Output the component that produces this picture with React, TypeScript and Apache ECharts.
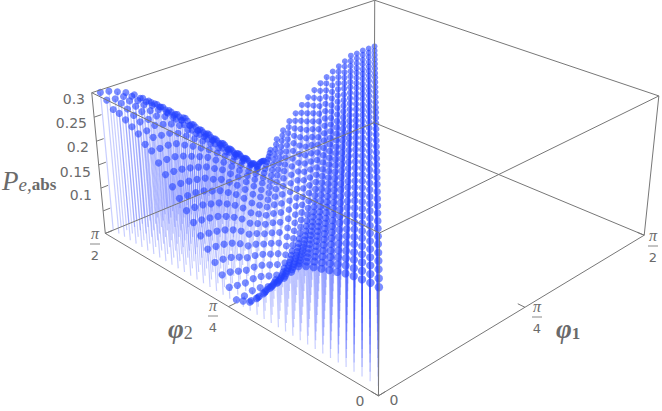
import React, { useEffect, useRef } from "react";
import * as echarts from "echarts";

// P(e,abs) in thousandths, estimated by eye from the reference picture, not measured.
// One list per line of constant (phi2 - phi1) step, from the phi1 = first-step edge to the phi2 = pi/2 edge.
const col00 = [188,188,189,189,189,190,190,190,190,191,191,191,191,192,192,192,192,192,192,192,192,192,192,192,192,192,191,191,191,191,191,191,191,190,190,190,190,190,190,190];
const col01 = [188,188,188,188,188,188,188,188,188,188,188,188,188,188,188,188,188,188,188,188,188,188,188,188,188,188,188,188,188,188,188,189,189,189,189,189,190,190,190];
const col02 = [186,186,186,186,186,186,185,185,185,185,185,185,185,185,185,185,185,185,185,185,185,186,186,186,186,186,186,187,187,187,187,188,188,188,189,189,190,190];
const col03 = [184,183,183,182,182,181,181,180,180,180,180,179,179,179,179,179,179,179,179,179,179,179,180,180,180,181,181,182,182,183,183,184,185,185,186,187,188];
const col04 = [181,180,178,177,176,175,174,174,173,173,172,172,172,171,171,171,171,171,171,172,172,172,173,173,174,175,176,177,178,179,180,182,183,185,186,188];
const col05 = [176,174,172,170,168,166,165,164,163,162,161,160,160,159,159,159,159,159,159,159,160,160,161,162,163,164,165,166,168,170,171,173,175,178,180];
const col06 = [171,168,165,162,159,156,153,150,147,145,143,141,140,139,138,137,137,138,138,139,140,142,144,146,148,151,154,157,160,163,166,169,171,173];
const col07 = [166,162,158,154,150,146,142,138,134,130,127,124,121,119,118,118,118,119,120,122,124,126,128,131,134,137,140,143,147,151,155,160,166];
const col08 = [161,156,150,145,140,135,130,125,120,115,111,107,104,102,101,100,100,101,103,105,108,112,116,120,125,130,135,140,145,149,154,158];
const col09 = [155,148,141,134,127,121,115,109,103,98,93,89,85,82,80,79,79,81,84,87,91,95,100,105,111,117,123,129,135,142,149];
const col10 = [147,137,127,118,109,100,92,84,77,71,66,62,59,58,58,60,63,67,71,76,81,87,93,99,105,111,118,124,131,138];
const col11 = [128,117,106,96,86,77,68,60,53,47,42,39,38,39,41,44,48,53,58,64,70,76,83,90,97,105,112,120,127];
const col12 = [108,96,85,74,64,54,45,36,29,23,20,20,22,25,29,34,39,45,51,58,65,72,79,86,93,100,107,114];
const col13 = [90,76,63,50,38,27,17,9,5,7,11,16,21,27,33,39,45,51,57,63,68,73,78,83,88,94,100];
const col14 = [72,58,44,31,19,8,2,9,17,25,33,41,48,54,60,65,69,72,74,76,78,80,81,83,85,87];
const col15 = [52,38,24,11,1,8,16,24,32,40,47,53,58,62,65,67,69,69,70,70,70,70,71,71,71];
const col16 = [34,19,5,7,15,23,31,38,45,51,56,60,62,63,63,63,62,61,60,59,58,57,56,56];
const col17 = [18,4,9,18,27,36,45,53,60,66,71,75,77,78,77,74,70,65,59,53,47,42,37];
const col18 = [12,6,17,28,39,49,59,68,76,83,88,92,93,92,89,83,75,65,54,42,30,17];
const col19 = [6,20,34,48,61,73,84,93,100,105,108,108,105,100,92,82,70,56,40,22,3];
const col20 = [24,40,55,70,83,95,106,115,121,125,126,124,119,111,101,88,73,56,38,20];
const col21 = [42,59,75,90,104,116,126,134,139,141,140,136,128,118,105,90,73,55,36];
const col22 = [60,78,95,111,125,137,147,154,157,157,153,146,135,121,105,88,70,52];
const col23 = [80,98,115,130,143,154,163,168,170,168,163,153,140,124,106,87,68];
const col24 = [100,118,135,150,163,173,180,183,183,178,169,156,140,122,103,84];
const col25 = [120,137,153,167,179,188,193,195,192,185,174,159,141,121,100];
const col26 = [137,154,170,184,195,203,206,205,199,189,175,158,138,117];
const col27 = [155,172,188,202,212,218,219,215,206,193,176,156,134];
const col28 = [172,190,207,221,230,234,233,226,213,195,173,150];
const col29 = [190,208,224,236,243,244,239,227,210,190,168];
const col30 = [207,224,238,248,252,249,241,226,207,186];
const col31 = [225,240,252,259,260,254,242,225,205];
const col32 = [232,247,258,264,263,255,242,225];
const col33 = [247,259,268,270,265,255,240];
const col34 = [255,266,273,273,266,255];
const col35 = [263,273,278,276,268];
const col36 = [270,279,281,278];
const col37 = [272,282,285];
const col38 = [285,292];
const col39 = [295];
const columns = [col00,col01,col02,col03,col04,col05,col06,col07,col08,col09,col10,col11,col12,col13,col14,col15,col16,col17,col18,col19,col20,col21,col22,col23,col24,col25,col26,col27,col28,col29,col30,col31,col32,col33,col34,col35,col36,col37,col38,col39];
const zTickLabels = ["0.3","0.25","0.2","0.15","0.1"];
const zMax = 0.3;
const N = 40;

const pts: number[][] = [];
columns.forEach((col, k) => col.forEach((z, i) => pts.push([(i + 1) / N, (i + k + 1) / N, z / 1000])));

const corners = [
  [0,0,0,378,396],[0,1,0,105,233],[1,0,0,644,235],[1,1,0,375,123],
  [0,0,1,380,233],[0,1,1,92,93],[1,0,1,659,96],[1,1,1,374,0],
];
function solveCamera() {
  const A: number[][] = []; const b: number[] = [];
  for (const [u,v,w,x0,y0] of corners) {
    const x = x0/500, y = y0/500;
    A.push([u,v,w,1,0,0,0,0,-x*u,-x*v,-x*w]); b.push(x);
    A.push([0,0,0,0,u,v,w,1,-y*u,-y*v,-y*w]); b.push(y);
  }
  const n = 11;
  const M = Array.from({length:n},(_,r)=>{
    const row = new Array(n+1).fill(0);
    for (let c=0;c<n;c++) for (let e=0;e<A.length;e++) row[c]+=A[e][r]*A[e][c];
    for (let e=0;e<A.length;e++) row[n]+=A[e][r]*b[e];
    return row;
  });
  for (let c=0;c<n;c++){
    let p=c; for(let r=c+1;r<n;r++) if(Math.abs(M[r][c])>Math.abs(M[p][c])) p=r;
    [M[c],M[p]]=[M[p],M[c]];
    for(let r=0;r<n;r++) if(r!==c){const f=M[r][c]/M[c][c]; for(let e=c;e<=n;e++) M[r][e]-=f*M[c][e];}
  }
  return M.map((r,i)=>r[n]/r[i]);
}
const cam = solveCamera();
function depth(u:number,v:number,w:number){ return cam[8]*u+cam[9]*v+cam[10]*w+1; }
function project(u:number,v:number,w:number){
  const d = depth(u,v,w);
  return [500*(cam[0]*u+cam[1]*v+cam[2]*w+cam[3])/d, 500*(cam[4]*u+cam[5]*v+cam[6]*w+cam[7])/d];
}
const boxEdges = [
  [0,0,0,0,1,0],[0,0,0,1,0,0],[1,1,0,0,1,0],[1,1,0,1,0,0],
  [0,0,1,0,1,1],[0,0,1,1,0,1],[1,1,1,0,1,1],[1,1,1,1,0,1],
  [0,0,0,0,0,1],[0,1,0,0,1,1],[1,0,0,1,0,1],[1,1,0,1,1,1],
];
const t=0.022;
const tickSegments = [
  [0,0,0,0,t,0],[0.5,0,0,0.5,t,0],[1,0,0,1,t,0],
  [0,0,0,t,0,0],[0,0.5,0,t,0.5,0],[0,1,0,t,1,0],
  ...[1/6,2/6,3/6,4/6,5/6].map(w=>[0,1,w,t,1,w]),
];
const gray="#6a6a6a";
const numFont='"DejaVu Sans"';
function txt(text:string,x:number,y:number,align="center",size=14){
  return {type:"text",x,y,silent:true,style:{text,fill:gray,font:`${size}px ${numFont}`,textAlign:align,textVerticalAlign:"middle"}};
}
function frac(den:string,x:number,top:number){
  return [
    {type:"text",x,y:top,silent:true,style:{text:"π",fill:gray,font:`italic 16px "Liberation Serif"`,textAlign:"center",textVerticalAlign:"middle"}},
    {type:"line",silent:true,shape:{x1:x-5,y1:top+11,x2:x+5,y2:top+11},style:{stroke:"#888",lineWidth:1}},
    {type:"text",x,y:top+22,silent:true,style:{text:den,fill:gray,font:`13px ${numFont}`,textAlign:"center",textVerticalAlign:"middle"}},
  ];
}
function App(){
  const ref=useRef<HTMLDivElement>(null);
  useEffect(()=>{
    document.body.style.margin="0";
    const chart=echarts.init(ref.current!,undefined,{renderer:"svg"});
    const seg=(color:string,width:number)=>(_:any,api:any)=>{
      const a=project(api.value(0),api.value(1),api.value(2));
      const b=project(api.value(3),api.value(4),api.value(5));
      const p=api.coord(a),q=api.coord(b);
      return {type:"line",shape:{x1:p[0],y1:p[1],x2:q[0],y2:q[1]},style:{stroke:color,lineWidth:width}};
    };
    const stems=pts.map(([u,v,z])=>[u,v,z/zMax,u,v,0]);
    const labelY=[99,123,147,172,195],labelX=[85,87,89,91,92];
    const nearDepth=depth(0,0,0);
    chart.setOption({
      animation:false,
      grid:{left:0,right:0,top:0,bottom:0},
      xAxis:{type:"value",min:0,max:662,show:false},
      yAxis:{type:"value",min:0,max:411,inverse:true,show:false},
      graphic:[
        ...zTickLabels.map((l,i)=>txt(l,labelX[i],labelY[i],"right")),
        ...frac("2",95,233),...frac("4",213,305),...frac("2",653,235),...frac("4",537,306),
        txt("0",360,401),txt("0",394,400),
        {type:"text",x:2,y:194,silent:true,style:{rich:{P:{font:'italic 27px "Liberation Serif"',fill:gray},e:{font:'italic 19px "Liberation Serif"',fill:gray,padding:[8,0,0,0]},a:{font:'bold 17px "Liberation Serif"',fill:gray,padding:[8,0,0,0]}},text:"{P|P}{e|e,}{a|abs}",textVerticalAlign:"bottom"}},
        {type:"text",x:168,y:329,silent:true,style:{rich:{f:{font:'italic bold 27px "Liberation Serif"',fill:gray},s:{font:'18px "Liberation Serif"',fill:gray,padding:[8,0,0,0]}},text:"{f|φ}{s|2}",textVerticalAlign:"middle"}},
        {type:"text",x:556,y:329,silent:true,style:{rich:{f:{font:'italic bold 27px "Liberation Serif"',fill:gray},s:{font:'bold 17px "Liberation Serif"',fill:gray,padding:[8,0,0,0]}},text:"{f|φ}{s|1}",textVerticalAlign:"middle"}},
      ],
      series:[
        {type:"custom",coordinateSystem:"cartesian2d",clip:false,silent:true,z:1,encode:{x:0,y:1},data:stems,renderItem:seg("rgba(50,75,255,0.27)",1.2)},
        {type:"custom",coordinateSystem:"cartesian2d",clip:false,silent:true,z:2,encode:{x:0,y:1},data:pts,renderItem:(_:any,api:any)=>{
          const w=api.value(2)/zMax;
          const p=api.coord(project(api.value(0),api.value(1),w));
          const r=4.1*nearDepth/depth(api.value(0),api.value(1),w);
          return {type:"circle",shape:{cx:p[0],cy:p[1],r},style:{fill:"rgba(35,65,255,0.6)"}};
        }},
        {type:"custom",coordinateSystem:"cartesian2d",clip:false,silent:true,z:3,encode:{x:0,y:1},data:[...boxEdges,...tickSegments],renderItem:seg("#777",1)},
      ],
    });
    return ()=>chart.dispose();
  },[]);
  return <div ref={ref} style={{width:662,height:411}}/>;
}
export default App;
